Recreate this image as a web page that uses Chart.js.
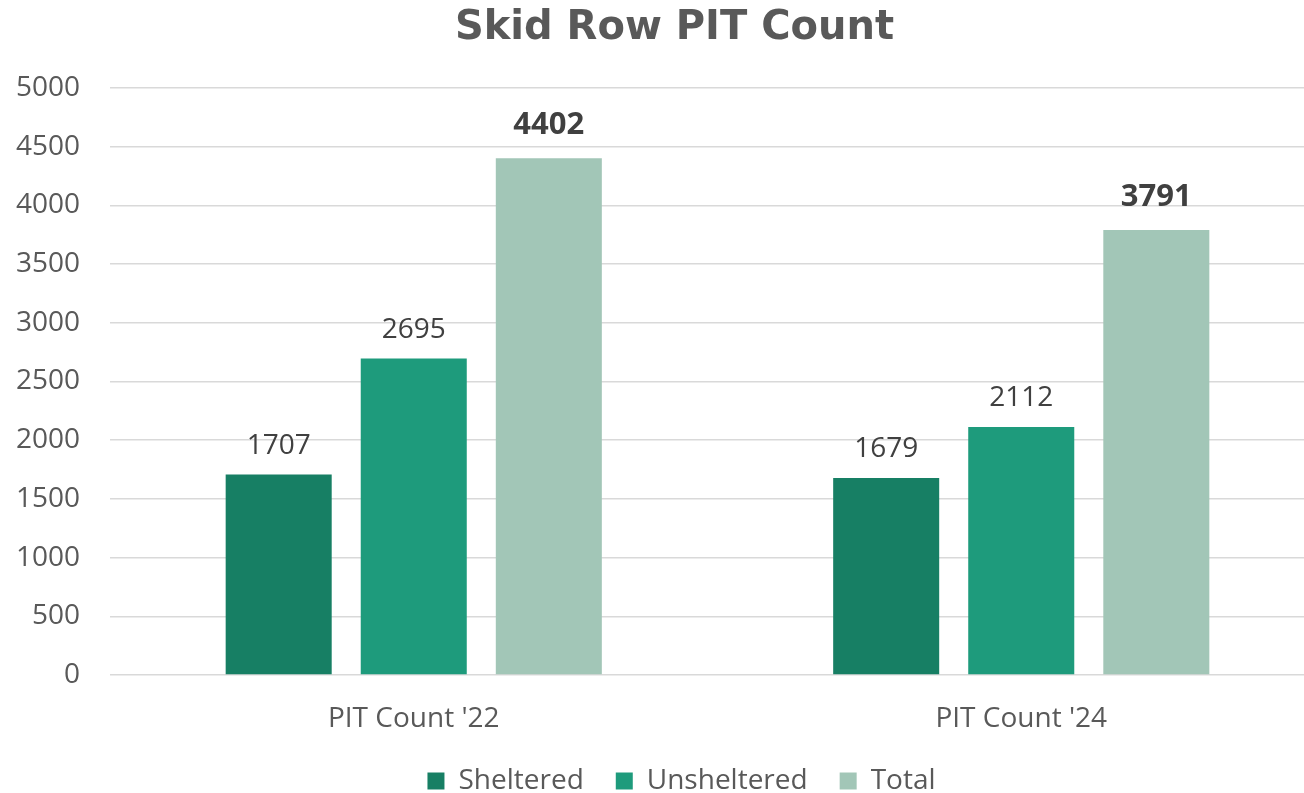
<!DOCTYPE html>
<html>
<head>
<meta charset="utf-8">
<script src="https://cdn.jsdelivr.net/npm/chart.js@4"></script>
<style>
html,body{margin:0;padding:0;background:#fff;overflow:hidden;}
#wrap{width:1350px;height:793px;}
</style>
</head>
<body>
<div id="wrap"><canvas id="c" width="1350" height="793"></canvas></div>
<script>
const categories = ["PIT Count '22", "PIT Count '24"];
const sheltered = [1707, 1679];
const unsheltered = [2695, 2112];
const total = [4402, 3791];
const yTicks = [0, 500, 1000, 1500, 2000, 2500, 3000, 3500, 4000, 4500, 5000];

const FONT = "'Open Sans', sans-serif";
const LEG_PAD = 32;
const LEG_H = 793 - (781 - LEG_PAD - 14);
const XAX_H = 781 - LEG_PAD - 14 - 675;
const TITLE_DX = 12;
const LEGEND_DX = 19;

const labelsPlugin = {
  id: 'valLabels',
  afterDatasetsDraw(chart) {
    const ctx = chart.ctx;
    chart.data.datasets.forEach((ds, i) => {
      const meta = chart.getDatasetMeta(i);
      const bold = i === 2;
      meta.data.forEach((bar, j) => {
        ctx.save();
        ctx.font = (bold ? 'bold 31px ' : '28px ') + FONT;
        ctx.fillStyle = '#404040';
        ctx.textAlign = 'center';
        ctx.textBaseline = 'middle';
        ctx.fillText(String(ds.data[j]), bar.x, bar.y - (bold ? 33 : 29));
        ctx.restore();
      });
    });
  }
};

function shiftDraw(box, dx) {
  const od = box.draw;
  box.draw = function () {
    this.ctx.save();
    this.ctx.translate(dx, 0);
    od.apply(this, arguments);
    this.ctx.restore();
  };
}

const boxFix = {
  id: 'boxFix',
  beforeLayout(chart) {
    const lg = chart.legend;
    if (lg && !lg._patched) {
      const orig = lg.fit;
      lg.fit = function () { orig.call(this); this.height = LEG_H; };
      shiftDraw(lg, LEGEND_DX);
      lg._patched = true;
    }
    const tt = chart.titleBlock;
    if (tt && !tt._patched) {
      shiftDraw(tt, TITLE_DX);
      tt._patched = true;
    }
  }
};

new Chart(document.getElementById('c'), {
  type: 'bar',
  data: {
    labels: categories,
    datasets: [
      { label: 'Sheltered', data: sheltered, backgroundColor: '#177f64' },
      { label: 'Unsheltered', data: unsheltered, backgroundColor: '#1e9b7c' },
      { label: 'Total', data: total, backgroundColor: '#a2c6b7' }
    ]
  },
  options: {
    responsive: false,
    animation: false,
    devicePixelRatio: 1,
    layout: { padding: { left: 0, right: 25, top: 0, bottom: 0 } },
    datasets: { bar: { categoryPercentage: 0.667, barPercentage: 0.785 } },
    plugins: {
      title: {
        display: true,
        text: 'Skid Row PIT Count',
        color: '#595959',
        font: { family: "'DejaVu Sans', sans-serif", size: 40, weight: 'bold', lineHeight: 1.2 },
        padding: { top: 5, bottom: 35 }
      },
      legend: {
        position: 'bottom',
        labels: {
          color: '#595959',
          font: { family: FONT, size: 28 },
          boxWidth: 17,
          boxHeight: 17,
          padding: LEG_PAD
        }
      },
      tooltip: { enabled: false }
    },
    scales: {
      x: {
        grid: { display: false, drawTicks: false },
        border: { display: false },
        ticks: { color: '#595959', font: { family: FONT, size: 28 }, padding: 27, maxRotation: 0 },
        afterFit(s) { s.height = XAX_H; }
      },
      y: {
        min: 0, max: 5000,
        afterBuildTicks(s) { s.ticks = yTicks.map(v => ({ value: v })); },
        grid: { color: '#d9d9d9', lineWidth: 1.5, drawTicks: false },
        border: { display: false },
        ticks: {
          color: '#595959', font: { family: FONT, size: 28 }, padding: 30,
          callback: (v) => String(v)
        },
        afterFit(s) { s.width = 110; }
      }
    }
  },
  plugins: [labelsPlugin, boxFix]
});
</script>
</body>
</html>
